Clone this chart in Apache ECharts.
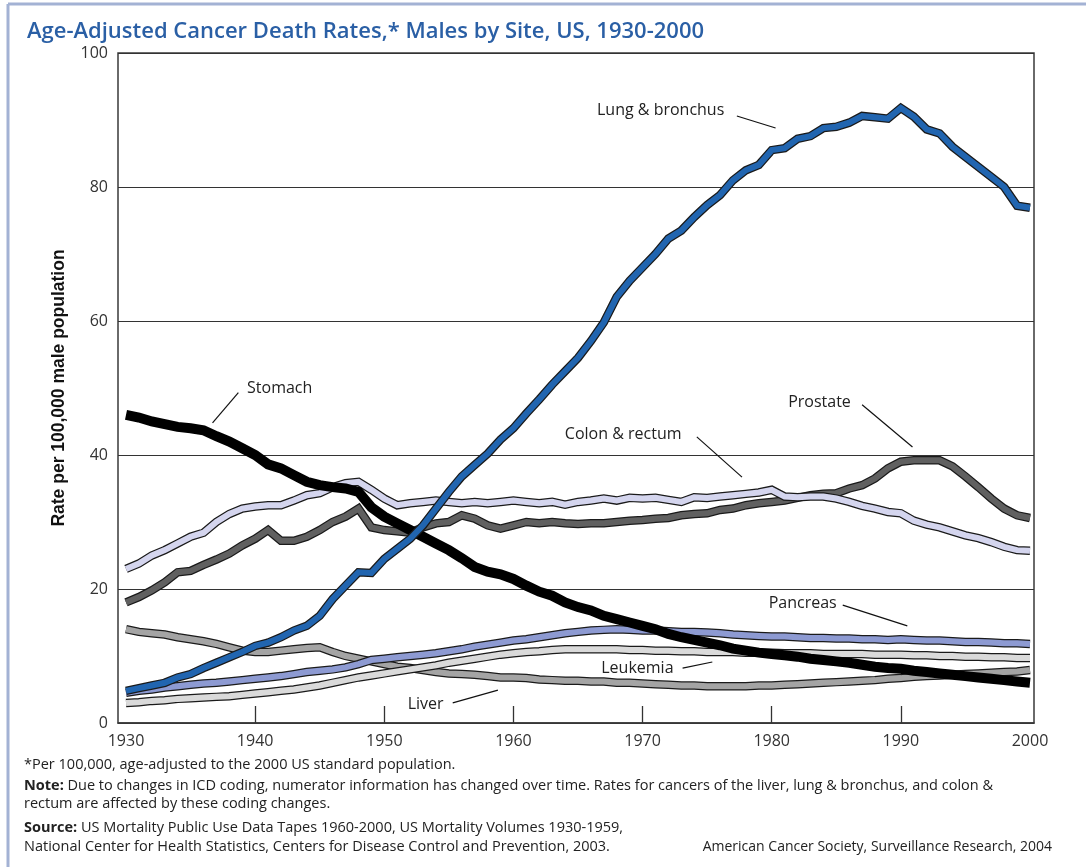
<!DOCTYPE html>
<html><head><meta charset="utf-8">
<script src="https://cdn.jsdelivr.net/npm/echarts@6/dist/echarts.min.js"></script>
<style>html,body{margin:0;padding:0;background:#fff}#c{width:1086px;height:867px}</style>
</head><body><div id="c"></div>
<script>
const years = [1930,1931,1932,1933,1934,1935,1936,1937,1938,1939,
  1940,1941,1942,1943,1944,1945,1946,1947,1948,1949,
  1950,1951,1952,1953,1954,1955,1956,1957,1958,1959,
  1960,1961,1962,1963,1964,1965,1966,1967,1968,1969,
  1970,1971,1972,1973,1974,1975,1976,1977,1978,1979,
  1980,1981,1982,1983,1984,1985,1986,1987,1988,1989,
  1990,1991,1992,1993,1994,1995,1996,1997,1998,1999,2000];

const lung = [4.8,5.2,5.6,6.0,6.8,7.3,8.2,9.0,9.8,10.6,
  11.5,12.0,12.8,13.8,14.5,16.0,18.5,20.5,22.5,22.4,
  24.5,26.0,27.5,29.5,32.0,34.5,36.8,38.5,40.2,42.3,
  44.0,46.2,48.3,50.5,52.5,54.5,57.0,59.8,63.6,66.0,
  68.0,70.0,72.3,73.5,75.5,77.3,78.8,81.0,82.5,83.3,
  85.5,85.8,87.2,87.6,88.8,89.0,89.6,90.6,90.4,90.2,
  91.8,90.5,88.6,88.0,86.0,84.5,83.0,81.5,80.0,77.2,76.9];
const stomach = [46.0,45.6,45.0,44.6,44.2,44.0,43.7,42.8,42.0,41.0,
  40.0,38.6,38.0,37.0,36.0,35.5,35.2,35.0,34.5,32.2,
  30.8,29.8,28.8,27.8,26.8,25.8,24.6,23.3,22.6,22.2,
  21.5,20.5,19.6,19.0,18.0,17.3,16.8,16.0,15.5,15.0,
  14.5,14.0,13.3,12.8,12.4,12.0,11.6,11.1,10.8,10.5,
  10.3,10.1,9.9,9.6,9.4,9.2,9.0,8.7,8.4,8.2,
  8.1,7.8,7.6,7.4,7.2,7.0,6.8,6.6,6.4,6.2,6.0];
const prostate = [18.0,18.8,19.8,21.0,22.5,22.7,23.6,24.4,25.3,26.5,
  27.5,28.8,27.2,27.2,27.8,28.8,30.0,30.8,32.0,29.2,
  28.8,28.6,28.4,29.2,29.8,30.0,31.0,30.5,29.5,29.0,
  29.5,30.0,29.8,30.0,29.8,29.7,29.8,29.8,30.0,30.2,
  30.3,30.5,30.6,31.0,31.2,31.3,31.8,32.0,32.5,32.8,
  33.0,33.2,33.6,34.0,34.2,34.3,35.0,35.5,36.5,38.0,
  39.0,39.2,39.2,39.2,38.3,36.8,35.2,33.5,32.0,31.0,30.6];
const colon = [23.0,23.8,25.0,25.8,26.8,27.8,28.4,30.0,31.2,32.0,
  32.3,32.5,32.5,33.2,34.0,34.3,35.2,35.8,36.0,34.8,
  33.5,32.5,32.8,33.0,33.2,33.0,32.8,33.0,32.8,33.0,
  33.2,33.0,32.8,33.0,32.6,33.0,33.2,33.5,33.2,33.6,
  33.5,33.6,33.3,33.0,33.7,33.6,33.8,34.0,34.2,34.4,
  34.8,33.8,33.7,33.8,33.8,33.5,33.0,32.4,32.0,31.5,
  31.3,30.2,29.6,29.2,28.6,28.0,27.6,27.0,26.3,25.8,25.7];
const pancreas = [4.5,4.8,5.0,5.3,5.5,5.7,5.9,6.0,6.2,6.4,
  6.6,6.8,7.0,7.3,7.6,7.8,8.0,8.3,8.8,9.4,
  9.6,9.8,10.0,10.2,10.4,10.7,11.0,11.4,11.7,12.0,
  12.3,12.5,12.8,13.1,13.4,13.6,13.8,13.9,14.0,13.9,
  13.8,13.8,13.7,13.6,13.6,13.5,13.4,13.2,13.1,13.0,
  12.9,12.9,12.8,12.7,12.7,12.6,12.6,12.5,12.5,12.4,
  12.5,12.4,12.3,12.3,12.2,12.1,12.1,12.0,11.9,11.9,11.8];
const leukemia = [3.0,3.1,3.3,3.4,3.6,3.7,3.8,3.9,4.0,4.2,
  4.4,4.6,4.8,5.0,5.3,5.6,6.0,6.4,6.8,7.1,
  7.4,7.7,8.0,8.3,8.6,9.0,9.3,9.6,9.9,10.2,
  10.4,10.6,10.7,10.9,11.0,11.0,11.0,11.0,11.0,10.9,
  10.9,10.8,10.8,10.7,10.7,10.6,10.6,10.6,10.5,10.5,
  10.5,10.4,10.4,10.4,10.3,10.3,10.3,10.3,10.2,10.2,
  10.2,10.1,10.1,10.0,10.0,9.9,9.9,9.8,9.8,9.7,9.7];
const liver = [14.0,13.6,13.4,13.2,12.8,12.5,12.2,11.8,11.3,10.8,
  10.6,10.6,10.8,11.0,11.2,11.3,10.6,10.0,9.6,9.2,
  8.8,8.4,8.2,7.9,7.6,7.4,7.3,7.2,7.0,6.8,
  6.8,6.7,6.5,6.4,6.3,6.3,6.2,6.2,6.0,6.0,
  5.9,5.8,5.7,5.6,5.6,5.5,5.5,5.5,5.5,5.6,
  5.6,5.7,5.8,5.9,6.0,6.1,6.2,6.3,6.4,6.6,
  6.7,6.9,7.0,7.1,7.2,7.3,7.4,7.5,7.6,7.7,7.9];

const yTicks = [0,20,40,60,80,100];
const xLabelYears = [1930,1940,1950,1960,1970,1980,1990,2000];
const xTickYears = [1940,1950,1960,1970,1980,1990];

// series drawn bottom to top
const seriesDefs = [
  {name:'Liver', values: liver, color:'#a4a4a4', outline:true},
  {name:'Leukemia', values: leukemia, color:'#dadada', outline:true},
  {name:'Pancreas', values: pancreas, color:'#8d9ad2', outline:true},
  {name:'Prostate', values: prostate, color:'#606060', outline:true},
  {name:'Colon & rectum', values: colon, color:'#d4d5ee', outline:true},
  {name:'Stomach', values: stomach, color:'#000000', outline:false},
  {name:'Lung & bronchus', values: lung, color:'#2165b0', outline:true}
];

// annotation labels: text centre and leader line, in data units [year, rate]
const labelNames = ['Lung & bronchus','Stomach','Prostate','Colon & rectum','Pancreas','Leukemia','Liver'];
const labelPos = [[1971.4,91.5],[1941.9,50.0],[1983.7,47.8],[1968.5,43.1],[1982.4,17.8],[1969.6,8.2],[1953.2,2.8]];
const leaderFrom = [[1977.3,90.6],[1938.7,49.3],[1987.0,47.5],[1974.2,42.7],[1985.5,17.6],[1973.1,8.2],[1955.3,3.0]];
const leaderTo = [[1980.3,88.8],[1936.7,44.8],[1990.9,41.2],[1977.7,36.7],[1990.5,14.5],[1975.4,9.1],[1958.8,4.9]];

const chart = echarts.init(document.getElementById('c'), null, {renderer:'canvas'});

const series = [];
seriesDefs.forEach(d => {
  const data = years.map((y,i)=>[y, d.values[i]]);
  if (d.outline) {
    series.push({type:'line', name:d.name+' outline', data, symbol:'none', silent:true,
      lineStyle:{color:'#1a1a1a', width:8.5, join:'miter'}});
    series.push({type:'line', name:d.name, data, symbol:'none', silent:true,
      lineStyle:{color:d.color, width:6, join:'miter'}});
  } else {
    series.push({type:'line', name:d.name, data, symbol:'none', silent:true,
      lineStyle:{color:d.color, width:10, join:'miter'}});
  }
});

const FN = '"Open Sans", "Liberation Sans", sans-serif';

chart.setOption({
  animation:false,
  backgroundColor:'#ffffff',
  title:{text:'Age-Adjusted Cancer Death Rates,* Males by Site, US, 1930-2000', left:22, top:16,
    textStyle:{fontFamily:FN, fontSize:22, fontWeight:600, color:'#2a5fa5'}},
  grid:{left:118, right:52, top:53, bottom:144, show:true, borderColor:'#3a3a3a', borderWidth:1.5, containLabel:false, outerBoundsMode:'none'},
  xAxis:{type:'value', min:1929.38, max:2000.31,
    axisLine:{show:true, lineStyle:{color:'#3a3a3a', width:1.5}},
    axisTick:{show:true, inside:true, length:17, customValues:xTickYears, lineStyle:{color:'#333', width:1.3}},
    axisLabel:{customValues:xLabelYears, fontFamily:FN, fontSize:16, color:'#333', margin:10, formatter: v => String(v)},
    splitLine:{show:false}},
  yAxis:{type:'value', min:0, max:100, interval:20,
    name:'Rate per 100,000 male population', nameLocation:'middle', nameGap:50, nameRotate:90,
    nameTextStyle:{fontFamily:'"Liberation Sans", Arial, sans-serif', fontSize:17.5, fontWeight:'bold', color:'#111'},
    axisLine:{show:false}, axisTick:{show:false},
    axisLabel:{fontFamily:FN, fontSize:16, color:'#333', margin:10},
    splitLine:{show:true, lineStyle:{color:'#333', width:1}}},
  series
});

const graphics = [];
// page border
graphics.push({type:'line', shape:{x1:8, y1:4, x2:1086, y2:4}, style:{stroke:'#a3b2d4', lineWidth:3}, silent:true});
graphics.push({type:'line', shape:{x1:8, y1:4, x2:8, y2:867}, style:{stroke:'#a3b2d4', lineWidth:3}, silent:true});

labelNames.forEach((t,i)=>{
  const p = chart.convertToPixel({gridIndex:0}, labelPos[i]);
  const a = chart.convertToPixel({gridIndex:0}, leaderFrom[i]);
  const b = chart.convertToPixel({gridIndex:0}, leaderTo[i]);
  graphics.push({type:'text', x:p[0], y:p[1], silent:true, z:100,
    style:{text:t, fill:'#222', font:'16px ' + FN, align:'center', verticalAlign:'middle'}});
  graphics.push({type:'line', z:100, silent:true, shape:{x1:a[0], y1:a[1], x2:b[0], y2:b[1]}, style:{stroke:'#111', lineWidth:1.2}});
});

const footRich = {b:{fontFamily:FN, fontSize:14.5, fontWeight:'bold', fill:'#222'}, n:{fontFamily:FN, fontSize:14.5, fill:'#222'}};
const foot = [
  [24,765,'{n|*Per 100,000, age-adjusted to the 2000 US standard population.}'],
  [24,786,'{b|Note:}{n| Due to changes in ICD coding, numerator information has changed over time. Rates for cancers of the liver, lung & bronchus, and colon &}'],
  [24,804,'{n|rectum are affected by these coding changes.}'],
  [24,828,'{b|Source:}{n| US Mortality Public Use Data Tapes 1960-2000, US Mortality Volumes 1930-1959,}'],
  [24,847,'{n|National Center for Health Statistics, Centers for Disease Control and Prevention, 2003.}']
];
foot.forEach(f=>{
  graphics.push({type:'text', x:f[0], y:f[1], silent:true,
    style:{text:f[2], rich:footRich, align:'left', verticalAlign:'middle'}});
});
graphics.push({type:'text', x:1052, y:847, silent:true,
  style:{text:'American Cancer Society, Surveillance Research, 2004', fill:'#222', font:'14px ' + FN, align:'right', verticalAlign:'middle'}});

chart.setOption({graphic:graphics});
</script></body></html>
